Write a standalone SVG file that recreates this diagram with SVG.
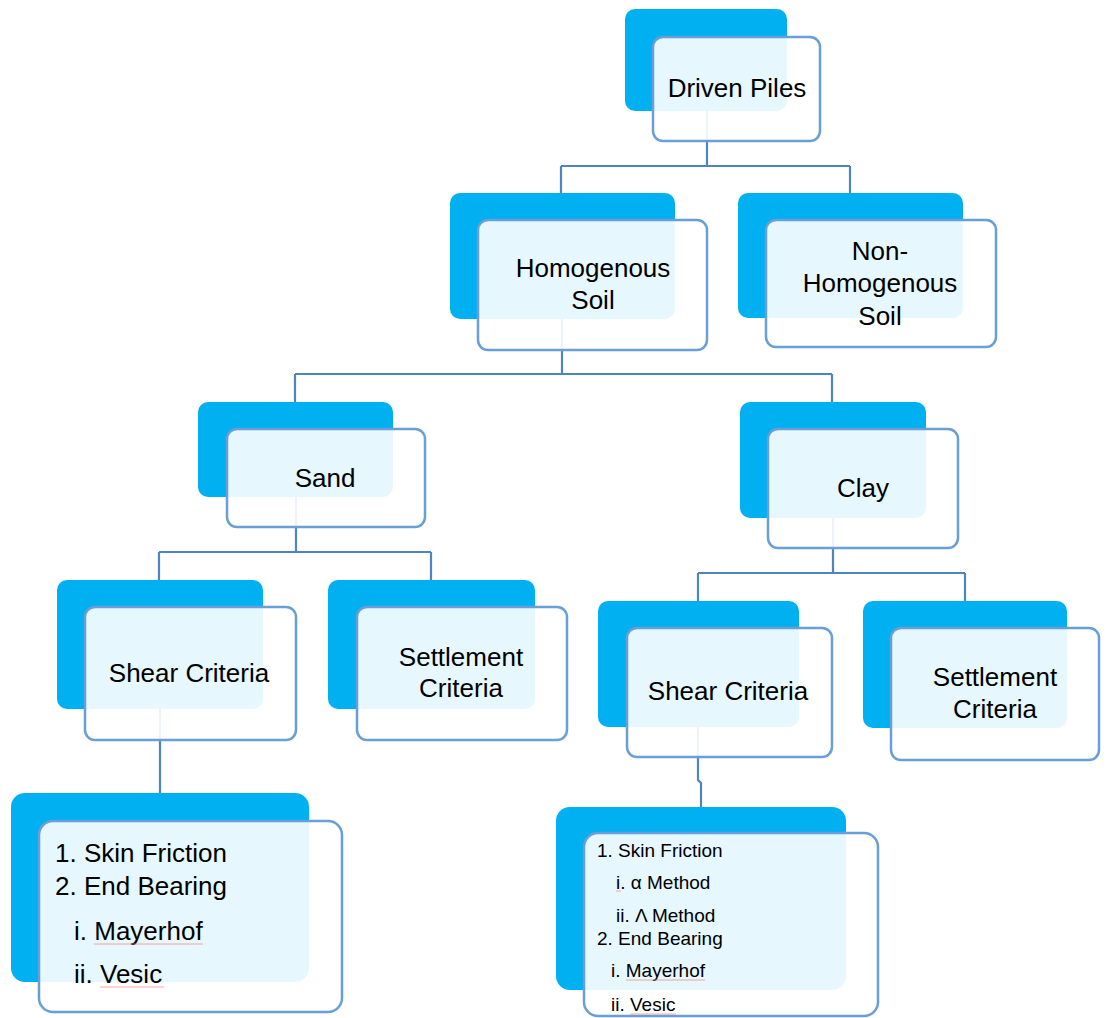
<svg xmlns="http://www.w3.org/2000/svg" width="1107" height="1018" viewBox="0 0 1107 1018">
<style>
.back{fill:#00B0F0;}
.front{fill:#FFFFFF;fill-opacity:0.9;stroke:#6A9ED6;stroke-width:2.5;}
.conn{fill:none;stroke:#4F84C0;stroke-width:2.2;}
.t{font-family:"Liberation Sans",Arial,sans-serif;font-size:26px;fill:#000;text-anchor:middle;}
.l{font-family:"Liberation Sans",Arial,sans-serif;font-size:26px;fill:#000;}
.s{font-family:"Liberation Sans",Arial,sans-serif;font-size:19px;fill:#000;}
.sp{stroke:#F08080;stroke-width:1;stroke-opacity:0.7;fill:none;}
</style>
<rect width="1107" height="1018" fill="#FFFFFF"/>
<g id="backs">
<rect class="back" x="625" y="9" width="162" height="102" rx="10"/>
<rect class="back" x="450" y="193" width="225" height="126" rx="10"/>
<rect class="back" x="738" y="193" width="225" height="125" rx="10"/>
<rect class="back" x="198" y="402" width="195" height="95" rx="10"/>
<rect class="back" x="740" y="402" width="186" height="116" rx="10"/>
<rect class="back" x="57" y="580" width="206" height="129" rx="10"/>
<rect class="back" x="328" y="580" width="207" height="129" rx="10"/>
<rect class="back" x="598" y="601" width="201" height="126" rx="10"/>
<rect class="back" x="863" y="601" width="204" height="127" rx="10"/>
<rect class="back" x="11" y="793" width="298" height="189" rx="14"/>
<rect class="back" x="556" y="807" width="290" height="183" rx="14"/>
</g>
<g id="connectors">
<path class="conn" d="M707 111 V166 M561 166 H850 M561 166 V193 M850 166 V193"/>
<path class="conn" d="M562 319 V374 M295 374 H832 M295 374 V402 M832 374 V402"/>
<path class="conn" d="M296 497 V552 M159 552 H431 M159 552 V580 M431 552 V580"/>
<path class="conn" d="M833 518 V573 M698 573 H965 M698 573 V601 M965 573 V601"/>
<path class="conn" d="M160 709 V793"/>
<path class="conn" d="M698 727 V780 L701 783 V807"/>
</g>
<g id="n-driven-piles">
<rect class="front" x="653" y="37" width="167" height="104" rx="10"/>
<text class="t" x="737" y="97">Driven Piles</text>
</g>
<g id="n-homogenous">
<rect class="front" x="478" y="220" width="229" height="130" rx="10"/>
<text class="t" x="593" y="277">Homogenous</text>
<text class="t" x="593" y="309">Soil</text>
</g>
<g id="n-non-homogenous">
<rect class="front" x="766" y="220" width="230" height="127" rx="10"/>
<text class="t" x="880" y="260">Non-</text>
<text class="t" x="880" y="292">Homogenous</text>
<text class="t" x="880" y="325">Soil</text>
</g>
<g id="n-sand">
<rect class="front" x="227" y="429" width="198" height="98" rx="10"/>
<text class="t" x="325" y="487">Sand</text>
</g>
<g id="n-clay">
<rect class="front" x="768" y="429" width="190" height="119" rx="10"/>
<text class="t" x="863" y="497">Clay</text>
</g>
<g id="n-sand-shear">
<rect class="front" x="85" y="607" width="211" height="133" rx="10"/>
<text class="t" x="189" y="682">Shear Criteria</text>
</g>
<g id="n-sand-settlement">
<rect class="front" x="357" y="607" width="210" height="133" rx="10"/>
<text class="t" x="461" y="666">Settlement</text>
<text class="t" x="461" y="697">Criteria</text>
</g>
<g id="n-clay-shear">
<rect class="front" x="627" y="628" width="205" height="129" rx="10"/>
<text class="t" x="728" y="700">Shear Criteria</text>
</g>
<g id="n-clay-settlement">
<rect class="front" x="891" y="628" width="208" height="132" rx="10"/>
<text class="t" x="995" y="686">Settlement</text>
<text class="t" x="995" y="718">Criteria</text>
</g>
<g id="n-sand-list">
<rect class="front" x="39" y="821" width="303" height="191" rx="14"/>
<text class="l" x="55" y="862">1. Skin Friction</text>
<text class="l" x="55" y="895">2. End Bearing</text>
<text class="l" x="74" y="940">i. Mayerhof</text>
<text class="l" x="74" y="983">ii. Vesic</text>
<path class="sp" d="M94 944 H203 M100 987 H164"/>
</g>
<g id="n-clay-list">
<rect class="front" x="584" y="833" width="294" height="183" rx="14"/>
<text class="s" x="597" y="857">1. Skin Friction</text>
<text class="s" x="616" y="889">i. α Method</text>
<text class="s" x="616" y="922">ii. Λ Method</text>
<text class="s" x="597" y="945">2. End Bearing</text>
<text class="s" x="611" y="977">i. Mayerhof</text>
<text class="s" x="611" y="1011">ii. Vesic</text>
<path class="sp" d="M616 891 H621 M626 980 H705 M630 1014 H676"/>
</g>
</svg>
